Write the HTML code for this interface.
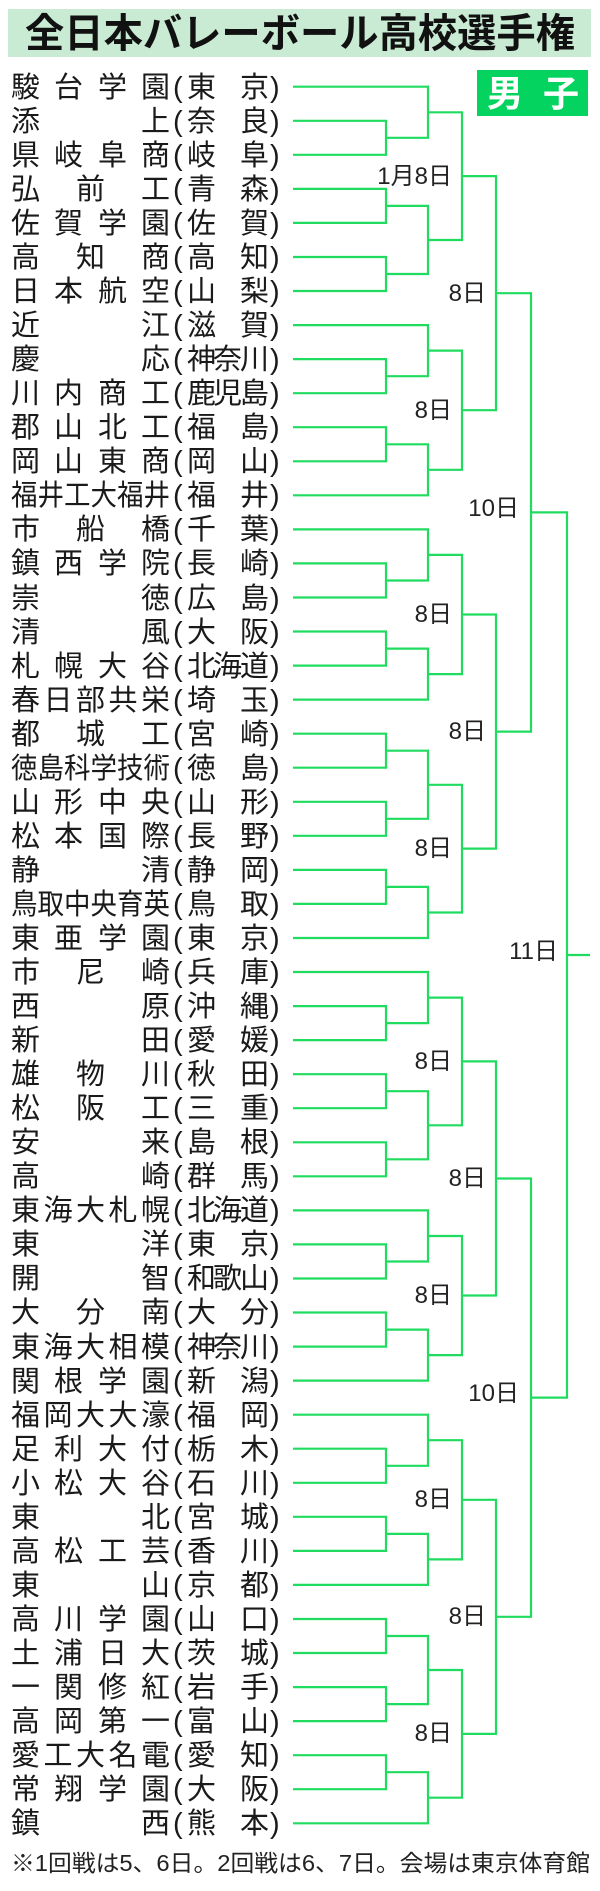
<!DOCTYPE html>
<html><head><meta charset="utf-8"><style>
html,body{margin:0;padding:0;background:#fff;}
svg{display:block;}
.t{font-family:"Liberation Sans","Noto Sans CJK JP",sans-serif;font-size:29px;fill:#1a1a1a;}
.p{font-family:"Liberation Sans","Noto Sans CJK JP",sans-serif;font-size:29px;fill:#1a1a1a;}
.l{font-family:"Liberation Sans","Noto Sans CJK JP",sans-serif;font-size:24px;fill:#222;text-anchor:end;}
</style></head><body>
<svg width="600" height="1891" viewBox="0 0 600 1891" xmlns="http://www.w3.org/2000/svg">
<rect x="0" y="0" width="600" height="1891" fill="#fff"/>
<rect x="8" y="9" width="583" height="48" fill="#c9ebd3"/>
<text x="25" y="47" font-family="Liberation Sans,Noto Sans CJK JP,sans-serif" font-size="40" font-weight="bold" fill="#111" textLength="550" lengthAdjust="spacingAndGlyphs">全日本バレーボール高校選手権</text>
<rect x="477" y="70" width="111" height="46" fill="#05d35f"/>
<text x="487" y="106" font-family="Liberation Sans,Noto Sans CJK JP,sans-serif" font-size="36" font-weight="bold" fill="#fff" textLength="92" lengthAdjust="spacing">男 子</text>

<g class="t">
<text y="97" x="11 54 98 141">駿台学園</text>
<text y="131" x="11 141">添上</text>
<text y="165" x="11 54 98 141">県岐阜商</text>
<text y="199" x="11 76 141">弘前工</text>
<text y="233" x="11 54 98 141">佐賀学園</text>
<text y="267" x="11 76 141">高知商</text>
<text y="301" x="11 54 98 141">日本航空</text>
<text y="335" x="11 141">近江</text>
<text y="369" x="11 141">慶応</text>
<text y="403" x="11 54 98 141">川内商工</text>
<text y="437" x="11 54 98 141">郡山北工</text>
<text y="471" x="11 54 98 141">岡山東商</text>
<text y="505" x="11" textLength="159" lengthAdjust="spacingAndGlyphs">福井工大福井</text>
<text y="539" x="11 76 141">市船橋</text>
<text y="573" x="11 54 98 141">鎮西学院</text>
<text y="608" x="11 141">崇徳</text>
<text y="642" x="11 141">清風</text>
<text y="676" x="11 54 98 141">札幌大谷</text>
<text y="710" x="11" textLength="159" lengthAdjust="spacing">春日部共栄</text>
<text y="744" x="11 76 141">都城工</text>
<text y="778" x="11" textLength="159" lengthAdjust="spacingAndGlyphs">徳島科学技術</text>
<text y="812" x="11 54 98 141">山形中央</text>
<text y="846" x="11 54 98 141">松本国際</text>
<text y="880" x="11 141">静清</text>
<text y="914" x="11" textLength="159" lengthAdjust="spacingAndGlyphs">鳥取中央育英</text>
<text y="948" x="11 54 98 141">東亜学園</text>
<text y="982" x="11 76 141">市尼崎</text>
<text y="1016" x="11 141">西原</text>
<text y="1050" x="11 141">新田</text>
<text y="1084" x="11 76 141">雄物川</text>
<text y="1118" x="11 76 141">松阪工</text>
<text y="1152" x="11 141">安来</text>
<text y="1186" x="11 141">高崎</text>
<text y="1220" x="11" textLength="159" lengthAdjust="spacing">東海大札幌</text>
<text y="1254" x="11 141">東洋</text>
<text y="1288" x="11 141">開智</text>
<text y="1322" x="11 76 141">大分南</text>
<text y="1357" x="11" textLength="159" lengthAdjust="spacing">東海大相模</text>
<text y="1391" x="11 54 98 141">関根学園</text>
<text y="1425" x="11" textLength="159" lengthAdjust="spacing">福岡大大濠</text>
<text y="1459" x="11 54 98 141">足利大付</text>
<text y="1493" x="11 54 98 141">小松大谷</text>
<text y="1527" x="11 141">東北</text>
<text y="1561" x="11 54 98 141">高松工芸</text>
<text y="1595" x="11 141">東山</text>
<text y="1629" x="11 54 98 141">高川学園</text>
<text y="1663" x="11 54 98 141">土浦日大</text>
<text y="1697" x="11 54 98 141">一関修紅</text>
<text y="1731" x="11 54 98 141">高岡第一</text>
<text y="1765" x="11" textLength="159" lengthAdjust="spacing">愛工大名電</text>
<text y="1799" x="11 54 98 141">常翔学園</text>
<text y="1833" x="11 141">鎮西</text>
</g>

<g class="p">
<text y="97" x="173 187 240 270">(東京)</text>
<text y="131" x="173 187 240 270">(奈良)</text>
<text y="165" x="173 187 240 270">(岐阜)</text>
<text y="199" x="173 187 240 270">(青森)</text>
<text y="233" x="173 187 240 270">(佐賀)</text>
<text y="267" x="173 187 240 270">(高知)</text>
<text y="301" x="173 187 240 270">(山梨)</text>
<text y="335" x="173 187 240 270">(滋賀)</text>
<text y="369" x="173 187 213 240 270">(神奈川)</text>
<text y="403" x="173 187 213 240 270">(鹿児島)</text>
<text y="437" x="173 187 240 270">(福島)</text>
<text y="471" x="173 187 240 270">(岡山)</text>
<text y="505" x="173 187 240 270">(福井)</text>
<text y="539" x="173 187 240 270">(千葉)</text>
<text y="573" x="173 187 240 270">(長崎)</text>
<text y="608" x="173 187 240 270">(広島)</text>
<text y="642" x="173 187 240 270">(大阪)</text>
<text y="676" x="173 187 213 240 270">(北海道)</text>
<text y="710" x="173 187 240 270">(埼玉)</text>
<text y="744" x="173 187 240 270">(宮崎)</text>
<text y="778" x="173 187 240 270">(徳島)</text>
<text y="812" x="173 187 240 270">(山形)</text>
<text y="846" x="173 187 240 270">(長野)</text>
<text y="880" x="173 187 240 270">(静岡)</text>
<text y="914" x="173 187 240 270">(鳥取)</text>
<text y="948" x="173 187 240 270">(東京)</text>
<text y="982" x="173 187 240 270">(兵庫)</text>
<text y="1016" x="173 187 240 270">(沖縄)</text>
<text y="1050" x="173 187 240 270">(愛媛)</text>
<text y="1084" x="173 187 240 270">(秋田)</text>
<text y="1118" x="173 187 240 270">(三重)</text>
<text y="1152" x="173 187 240 270">(島根)</text>
<text y="1186" x="173 187 240 270">(群馬)</text>
<text y="1220" x="173 187 213 240 270">(北海道)</text>
<text y="1254" x="173 187 240 270">(東京)</text>
<text y="1288" x="173 187 213 240 270">(和歌山)</text>
<text y="1322" x="173 187 240 270">(大分)</text>
<text y="1357" x="173 187 213 240 270">(神奈川)</text>
<text y="1391" x="173 187 240 270">(新潟)</text>
<text y="1425" x="173 187 240 270">(福岡)</text>
<text y="1459" x="173 187 240 270">(栃木)</text>
<text y="1493" x="173 187 240 270">(石川)</text>
<text y="1527" x="173 187 240 270">(宮城)</text>
<text y="1561" x="173 187 240 270">(香川)</text>
<text y="1595" x="173 187 240 270">(京都)</text>
<text y="1629" x="173 187 240 270">(山口)</text>
<text y="1663" x="173 187 240 270">(茨城)</text>
<text y="1697" x="173 187 240 270">(岩手)</text>
<text y="1731" x="173 187 240 270">(富山)</text>
<text y="1765" x="173 187 240 270">(愛知)</text>
<text y="1799" x="173 187 240 270">(大阪)</text>
<text y="1833" x="173 187 240 270">(熊本)</text>
</g>

<g fill="none" stroke="#1fdc5f" stroke-width="2.2">
<path d="M293 120.8H386V154.8H293"/>
<path d="M293 86.7H428V137.8H386"/>
<path d="M293 188.9H386V222.9H293"/>
<path d="M293 257H386V291H293"/>
<path d="M386 205.9H428V274H386"/>
<path d="M428 112.3H462V240H428"/>
<path d="M293 359.1H386V393.2H293"/>
<path d="M293 325.1H428V376.2H386"/>
<path d="M293 427.2H386V461.3H293"/>
<path d="M386 444.3H428V495.3H293"/>
<path d="M428 350.6H462V469.8H428"/>
<path d="M462 176.1H496V410.2H462"/>

<path d="M293 563.4H386V597.5H293"/>
<path d="M293 529.4H428V580.5H386"/>
<path d="M293 631.5H386V665.6H293"/>
<path d="M386 648.6H428V699.6H293"/>
<path d="M428 554.9H462V674.1H428"/>
<path d="M293 733.7H386V767.7H293"/>
<path d="M293 801.8H386V835.8H293"/>
<path d="M386 750.7H428V818.8H386"/>
<path d="M293 869.9H386V903.9H293"/>
<path d="M386 886.9H428V938H293"/>
<path d="M428 784.8H462V912.5H428"/>
<path d="M462 614.5H496V848.6H462"/>
<path d="M496 293.2H531V731.6H496"/>

<path d="M293 1006.1H386V1040.1H293"/>
<path d="M293 972H428V1023.1H386"/>
<path d="M293 1074.2H386V1108.2H293"/>
<path d="M293 1142.3H386V1176.3H293"/>
<path d="M386 1091.2H428V1159.3H386"/>
<path d="M428 997.6H462V1125.3H428"/>
<path d="M293 1244.4H386V1278.5H293"/>
<path d="M293 1210.4H428V1261.5H386"/>
<path d="M293 1312.5H386V1346.6H293"/>
<path d="M386 1329.6H428V1380.6H293"/>
<path d="M428 1236H462V1355.1H428"/>
<path d="M462 1061.4H496V1295.5H462"/>

<path d="M293 1448.7H386V1482.8H293"/>
<path d="M293 1414.7H428V1465.8H386"/>
<path d="M293 1516.8H386V1550.9H293"/>
<path d="M386 1533.9H428V1584.9H293"/>
<path d="M428 1440.2H462V1559.4H428"/>
<path d="M293 1619H386V1653H293"/>
<path d="M293 1687.1H386V1721.1H293"/>
<path d="M386 1636H428V1704.1H386"/>
<path d="M293 1755.2H386V1789.2H293"/>
<path d="M386 1772.2H428V1823.3H293"/>
<path d="M428 1670H462V1797.7H428"/>
<path d="M462 1499.8H496V1733.9H462"/>
<path d="M496 1178.5H531V1616.8H496"/>

<path d="M531 512.4H567V1397.6H531"/>
<path d="M567 955H590"/>
</g>

<g class="l">
<text x="452" y="184">1月8日</text>
<text x="452" y="418">8日</text>
<text x="486" y="301">8日</text>
<text x="452" y="622">8日</text>
<text x="452" y="856">8日</text>
<text x="486" y="739">8日</text>
<text x="519" y="516">10日</text>
<text x="558" y="959">11日</text>
<text x="452" y="1069">8日</text>
<text x="452" y="1303">8日</text>
<text x="486" y="1186">8日</text>
<text x="452" y="1507">8日</text>
<text x="452" y="1741">8日</text>
<text x="486" y="1624">8日</text>
<text x="519" y="1401">10日</text>
</g>

<text x="11" y="1871" font-family="Liberation Sans,Noto Sans CJK JP,sans-serif" font-size="23" fill="#222" textLength="579" lengthAdjust="spacingAndGlyphs">※1回戦は5、6日。2回戦は6、7日。会場は東京体育館</text>
</svg>
</body></html>
